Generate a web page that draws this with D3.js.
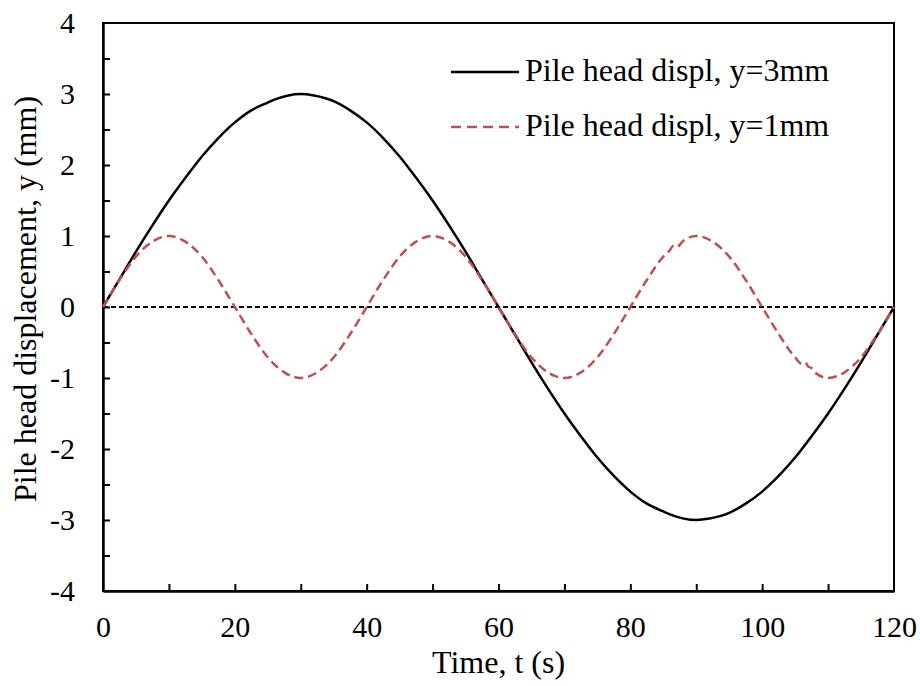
<!DOCTYPE html>
<html>
<head>
<meta charset="utf-8">
<script src="https://cdn.jsdelivr.net/npm/d3@7"></script>
<style>
  body { margin: 0; background: #fff; }
  svg text { font-family: "Liberation Serif", "Times New Roman", serif; fill: #000; }
</style>
</head>
<body>
<div id="chart"></div>
<script>
// pile head displacement, y = 3mm run
var timeA = [0, 2.5, 5, 7.5, 10, 12.5, 15, 17.5, 20, 22.5, 25, 26, 30, 32, 35, 37.5, 40, 42.5, 45, 47.5, 50, 52.5, 55, 57.5, 60,
             62.5, 65, 67.5, 70, 72.5, 75, 77.5, 80, 82.5, 85, 86, 90, 92, 95, 97.5, 100, 102.5, 105, 107.5, 110, 112.5, 115, 117.5, 120];
var dispA = [0, 0.39, 0.78, 1.15, 1.5, 1.82, 2.12, 2.38, 2.6, 2.77, 2.88, 2.92, 3.0, 2.98, 2.9, 2.77, 2.6, 2.38, 2.12, 1.82, 1.5, 1.15, 0.78, 0.39, 0,
             -0.39, -0.78, -1.15, -1.5, -1.82, -2.12, -2.38, -2.6, -2.77, -2.88, -2.92, -3.0, -2.98, -2.9, -2.77, -2.6, -2.38, -2.12, -1.82, -1.5, -1.15, -0.78, -0.39, 0];

// pile head displacement, y = 1mm run
var timeB = [0, 2.5, 5, 7.5, 10, 12.5, 15, 17.5, 20, 22.5, 25, 27.5, 30, 32.5, 35, 37.5, 40, 42.5, 45, 47.5, 50, 52.5, 55, 57.5, 60,
             62.5, 65, 67.5, 70, 72.5, 75, 77.5, 80, 82.5, 85, 86, 86.5, 87, 88, 90, 92.5, 95, 97.5, 100, 102.5, 105, 106, 106.5, 107, 107.5, 108, 110, 112.5, 115, 117.5, 120];
var dispB = [0, 0.38, 0.71, 0.92, 1.0, 0.92, 0.71, 0.38, 0, -0.38, -0.71, -0.92, -1.0, -0.92, -0.71, -0.38, 0, 0.38, 0.71, 0.92, 1.0, 0.92, 0.71, 0.38, 0,
             -0.38, -0.71, -0.92, -1.0, -0.92, -0.71, -0.38, 0, 0.38, 0.71, 0.8, 0.86, 0.84, 0.93, 1.0, 0.92, 0.71, 0.38, 0, -0.38, -0.71, -0.8, -0.78, -0.84, -0.86, -0.92, -1.0, -0.92, -0.71, -0.38, 0];

var xTicks = [0, 20, 40, 60, 80, 100, 120];
var xMinor = [10, 30, 50, 70, 90, 110];
var yTicks = [-4, -3, -2, -1, 0, 1, 2, 3, 4];
var yMinor = [-3.5, -2.5, -1.5, -0.5, 0.5, 1.5, 2.5, 3.5];
var legendLabels = ["Pile head displ, y=3mm", "Pile head displ, y=1mm"];

var width = 920, height = 686;
var margin = {top: 23, right: 26, bottom: 95, left: 103};
var innerWidth = width - margin.left - margin.right;
var innerHeight = height - margin.top - margin.bottom;
var redColor = "#c0504d";
var fontFamily = "Liberation Serif, Times New Roman, serif";

var svg = d3.select("#chart").append("svg")
    .attr("width", width)
    .attr("height", height);
var g = svg.append("g").attr("transform", "translate(" + margin.left + "," + margin.top + ")");

var xScale = d3.scaleLinear().domain([0, 120]).range([0, innerWidth]);
var yScale = d3.scaleLinear().domain([-4, 4]).range([innerHeight, 0]);

// frame
g.append("rect")
    .attr("width", innerWidth)
    .attr("height", innerHeight)
    .attr("fill", "none")
    .attr("stroke", "#000")
    .attr("stroke-width", 2);

var plainFormat = function(d) { return String(d); };

// axes with inside ticks
var xAxis = g.append("g")
    .attr("transform", "translate(0," + innerHeight + ")")
    .call(d3.axisBottom(xScale).tickValues(xTicks).tickSizeInner(-7).tickSizeOuter(0).tickPadding(25).tickFormat(plainFormat));
xAxis.selectAll(".tick").filter(function(d) { return d === 0 || d === 120; }).select("line").remove();
g.append("g")
    .attr("transform", "translate(0," + innerHeight + ")")
    .call(d3.axisBottom(xScale).tickValues(xMinor).tickSizeInner(-7).tickSizeOuter(0).tickFormat(""));

var yAxis = g.append("g")
    .call(d3.axisLeft(yScale).tickValues(yTicks).tickSizeInner(-7).tickSizeOuter(0).tickPadding(28).tickFormat(plainFormat));
yAxis.selectAll(".tick").filter(function(d) { return d === 4 || d === -4; }).select("line").remove();
g.append("g")
    .call(d3.axisLeft(yScale).tickValues(yMinor).tickSizeInner(-7).tickSizeOuter(0).tickFormat(""));

g.selectAll(".domain").attr("stroke", "#000").attr("stroke-width", 2);
g.selectAll(".tick line").attr("stroke", "#000").attr("stroke-width", 2);
g.selectAll(".tick text")
    .attr("font-size", 30)
    .attr("font-family", fontFamily)
    .style("font-family", fontFamily)
    .style("font-size", "30px");

// zero line
g.append("line")
    .attr("x1", xScale(0))
    .attr("x2", xScale(120))
    .attr("y1", yScale(0))
    .attr("y2", yScale(0))
    .attr("stroke", "#000")
    .attr("stroke-width", 2)
    .attr("stroke-dasharray", "5,3");

var lineGen = d3.line()
    .x(function(d) { return xScale(d[0]); })
    .y(function(d) { return yScale(d[1]); })
    .curve(d3.curveMonotoneX);

var dataA = timeA.map(function(t, i) { return [t, dispA[i]]; });
var dataB = timeB.map(function(t, i) { return [t, dispB[i]]; });

g.append("path")
    .attr("d", lineGen(dataA))
    .attr("fill", "none")
    .attr("stroke", "#000")
    .attr("stroke-width", 2.5)
    .attr("stroke-linejoin", "round");

g.append("path")
    .attr("d", lineGen(dataB))
    .attr("fill", "none")
    .attr("stroke", redColor)
    .attr("stroke-width", 2.5)
    .attr("stroke-dasharray", "9,5");

// legend
var legend = svg.append("g");
var legendStyles = [{color: "#000", dash: null}, {color: redColor, dash: "10,6"}];
legendLabels.forEach(function(label, i) {
    var ly = 72 + i * 55;
    legend.append("line")
        .attr("x1", 451).attr("x2", 519)
        .attr("y1", ly).attr("y2", ly)
        .attr("stroke", legendStyles[i].color)
        .attr("stroke-width", 2.5)
        .attr("stroke-dasharray", legendStyles[i].dash);
    legend.append("text")
        .attr("x", 525)
        .attr("y", ly + 9)
        .style("font-size", "32px")
        .text(label);
});

// axis titles
svg.append("text")
    .attr("x", margin.left + innerWidth / 2)
    .attr("y", 673)
    .attr("text-anchor", "middle")
    .style("font-size", "32px")
    .text("Time, t (s)");

svg.append("text")
    .attr("transform", "translate(36,299) rotate(-90)")
    .attr("text-anchor", "middle")
    .style("font-size", "32px")
    .text("Pile head displacement, y (mm)");
</script>
</body>
</html>
